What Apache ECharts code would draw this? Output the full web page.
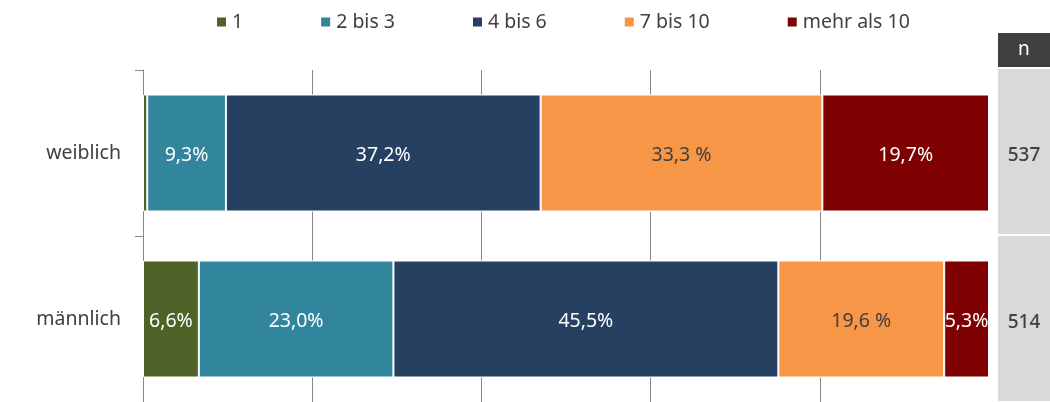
<!DOCTYPE html>
<html>
<head>
<meta charset="utf-8">
<script src="https://cdn.jsdelivr.net/npm/echarts@6/dist/echarts.min.js"></script>
<style>
  html, body { margin: 0; padding: 0; background: #fff; }
  #chart { width: 1050px; height: 402px; }
</style>
</head>
<body>
<div id="chart"></div>
<script>
// data
const categories = ["weiblich", "männlich"];
const seriesNames = ["1", "2 bis 3", "4 bis 6", "7 bis 10", "mehr als 10"];
const einmal = [0.5, 6.6];
const zweiBisDrei = [9.3, 23.0];
const vierBisSechs = [37.2, 45.5];
const siebenBisZehn = [33.3, 19.6];
const mehrAlsZehn = [19.7, 5.3];
const nValues = [537, 514];
const xTicks = [0, 20, 40, 60, 80, 100];

const colors = ["#4f6228", "#31859c", "#254061", "#f79646", "#7f0000"];
const textGray = "#404040";
const fontFamily = "'Noto Sans', 'DejaVu Sans', sans-serif";

function fmt(v, space) {
  if (v < 2) return "";
  return v.toFixed(1).replace(".", ",") + (space ? " %" : "%");
}

function makeSeries(name, data, idx) {
  const dark = idx === 3;
  return {
    name: name,
    type: "bar",
    stack: "total",
    xAxisIndex: 0,
    yAxisIndex: 0,
    barWidth: 117,
    data: data,
    itemStyle: { color: colors[idx], borderColor: "#fff", borderWidth: 1 },
    label: {
      show: true,
      position: "inside",
      offset: [0, 2],
      color: dark ? textGray : "#fff",
      fontSize: 19.5,
      fontFamily: fontFamily,
      formatter: (p) => fmt(p.value, dark),
    },
  };
}

const chart = echarts.init(document.getElementById("chart"));

const option = {
  animation: false,
  textStyle: { fontFamily: fontFamily },
  legend: {
    data: seriesNames,
    left: 210,
    top: 7,
    itemWidth: 11,
    itemHeight: 11,
    itemGap: 76,
    icon: "rect",
    textStyle: { fontSize: 19.5, color: textGray, fontFamily: fontFamily },
  },
  grid: [
    { left: 143, right: 61, top: 70, height: 334 },
    { left: 998, right: 0, top: 68, height: 342 },
  ],
  xAxis: [
    {
      gridIndex: 0,
      type: "value",
      min: xTicks[0],
      max: xTicks[xTicks.length - 1],
      interval: xTicks[1] - xTicks[0],
      axisLabel: { show: false },
      axisLine: { show: false },
      axisTick: { show: false },
      splitLine: {
        show: true,
        lineStyle: {
          width: 1,
          color: ["rgba(0,0,0,0)", "#888", "#888", "#888", "#888", "rgba(0,0,0,0)"],
        },
      },
    },
    { gridIndex: 1, type: "value", min: 0, max: 1, show: false },
  ],
  yAxis: [
    {
      gridIndex: 0,
      type: "category",
      inverse: true,
      data: categories,
      axisLine: { show: true, lineStyle: { color: "#888", width: 1 } },
      axisTick: { show: true, length: 8, lineStyle: { color: "#888" } },
      axisLabel: {
        fontSize: 19.5,
        color: textGray,
        margin: 22,
        padding: [6, 0, 0, 0],
        fontFamily: fontFamily,
      },
    },
    { gridIndex: 1, type: "category", inverse: true, data: categories, show: false },
  ],
  series: [
    makeSeries(seriesNames[0], einmal, 0),
    makeSeries(seriesNames[1], zweiBisDrei, 1),
    makeSeries(seriesNames[2], vierBisSechs, 2),
    makeSeries(seriesNames[3], siebenBisZehn, 3),
    makeSeries(seriesNames[4], mehrAlsZehn, 4),
    {
      name: "n",
      type: "bar",
      xAxisIndex: 1,
      yAxisIndex: 1,
      barWidth: 165,
      data: nValues.map(() => 1),
      itemStyle: { color: "#d9d9d9" },
      label: {
        show: true,
        position: "inside",
        offset: [0, 4],
        color: textGray,
        fontSize: 19,
        fontWeight: 500,
        fontFamily: fontFamily,
        formatter: (p) => String(nValues[p.dataIndex]),
      },
      silent: true,
    },
  ],
  graphic: [
    {
      type: "rect",
      left: 998,
      top: 33,
      shape: { width: 52, height: 34 },
      style: { fill: "#404040" },
    },
    {
      type: "text",
      left: 1018,
      top: 40,
      style: { text: "n", fill: "#fff", fontSize: 19, fontFamily: fontFamily },
    },
  ],
};

chart.setOption(option);
</script>
</body>
</html>
